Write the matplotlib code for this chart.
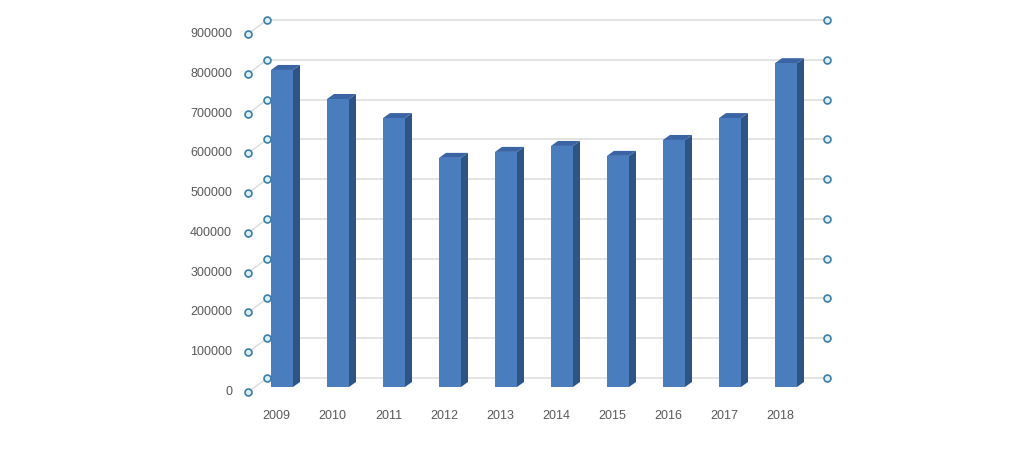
import matplotlib

matplotlib.use('Agg')
import matplotlib.pyplot as plt
from matplotlib.patches import Polygon, Rectangle

years = ['2009', '2010', '2011', '2012', '2013', '2014', '2015', '2016', '2017', '2018']
values = [797000, 724000, 676000, 576000, 591000, 606000, 581000, 621000, 676000, 814000]
ticks = [0, 100000, 200000, 300000, 400000, 500000, 600000, 700000, 800000, 900000]

# pixel calibration (figure is 1024x449 at dpi 100)
W, H = 1024, 449
X_STEP = 56.0       # px per category
Y_STEP = 39.78      # px per 100000
X0, Y0 = 282.0, 387.0  # centre of first bar, bar base (px from top)


def px_x(p):
    return p / X_STEP


def px_y(p):
    return p / Y_STEP * 100000


FRONT = '#4a7dbd'
SIDE = '#2e5486'
TOP = '#3a64a3'
GRID = '#dcdcdc'
TEXT = '#595959'

fig = plt.figure(figsize=(W / 100, H / 100), dpi=100)
ax = fig.add_axes([0, 0, 1, 1])
ax.set_xlim(-px_x(X0), px_x(W - X0))
ax.set_ylim(-px_y(H - Y0), px_y(Y0))
ax.axis('off')

# back wall / front plane offsets relative to bar front plane
bx, by = px_x(15), px_y(9)
fx, fy = px_x(-4), px_y(-5)
left_back = px_x(267 - X0)
right_back = px_x(827 - X0)
left_front = px_x(248 - X0)

for t in ticks:
    ax.plot([left_back, right_back], [t + by, t + by], color=GRID, lw=1.1, zorder=1)
    ax.plot([left_front, left_back], [t + fy, t + by], color=GRID, lw=1.0, zorder=1)
    ax.plot([left_front, left_back, right_back], [t + fy, t + by, t + by], 'o', ms=5,
            mfc='#dcf0fa', mec='#3b7ea8', mew=1.2, zorder=5, ls='none')
    ax.text(px_x(232 - X0), t + fy, f'{t}', ha='right', va='center',
            fontsize=9, color=TEXT, family='Liberation Sans')

bw = px_x(22)
dx, dy = px_x(7), px_y(5)
for i, (y, v) in enumerate(zip(years, values)):
    x0 = i - bw / 2
    x1 = i + bw / 2
    ax.add_patch(Polygon([(x1, 0), (x1 + dx, dy), (x1 + dx, v + dy), (x1, v)],
                         closed=True, fc=SIDE, ec='none', zorder=3))
    ax.add_patch(Polygon([(x0, v), (x0 + dx, v + dy), (x1 + dx, v + dy), (x1, v)],
                         closed=True, fc=TOP, ec='none', zorder=3))
    ax.add_patch(Rectangle((x0, 0), bw, v, fc=FRONT, ec='none', zorder=4))
    ax.text(i + fx - px_x(1.5), px_y(-29), y, ha='center', va='center',
            fontsize=9, color=TEXT, family='Liberation Sans')

fig.savefig('out.png', dpi=100)
